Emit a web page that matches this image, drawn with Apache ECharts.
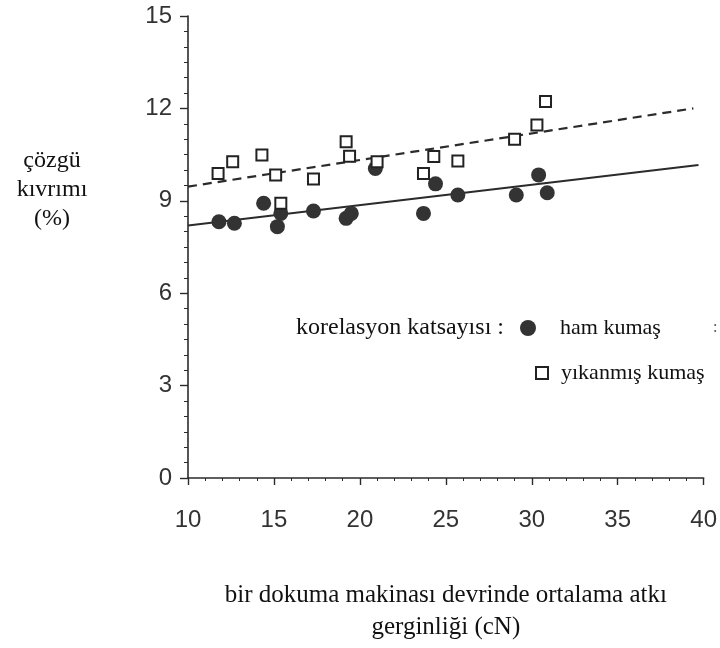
<!DOCTYPE html>
<html>
<head>
<meta charset="utf-8">
<script src="https://cdn.jsdelivr.net/npm/echarts@6/dist/echarts.min.js"></script>
<style>
  html, body { margin: 0; padding: 0; background: #ffffff; }
  #chart { width: 720px; height: 648px; }
</style>
</head>
<body>
<div id="chart"></div>
<script>
// Raw fabric (ham kumaş): weft tension (cN) vs warp crimp (%)
const hamX = [11.8, 12.7, 14.4, 15.2, 15.4, 17.3, 19.2, 19.5, 20.9, 23.7, 24.4, 25.7, 29.1, 30.4, 30.9];
const hamY = [8.32, 8.27, 8.92, 8.16, 8.59, 8.67, 8.43, 8.59, 10.05, 8.59, 9.55, 9.19, 9.19, 9.84, 9.26];

// Washed fabric (yıkanmış kumaş)
const yikX = [11.75, 12.6, 14.3, 15.1, 15.4, 17.3, 19.2, 19.4, 21.0, 23.7, 24.3, 25.7, 29.0, 30.3, 30.8];
const yikY = [9.89, 10.27, 10.49, 9.84, 8.92, 9.71, 10.92, 10.45, 10.27, 9.89, 10.44, 10.29, 11.0, 11.46, 12.22];

// Fitted trend lines (end points)
const hamFitX = [10, 39.7];
const hamFitY = [8.2, 10.16];
const yikFitX = [10, 39.4];
const yikFitY = [9.46, 12.0];

// Axis ticks
const xTicks = [10, 15, 20, 25, 30, 35, 40];
const yTicks = [0, 3, 6, 9, 12, 15];

const seriesNames = ['ham kumaş', 'yıkanmış kumaş'];

const zip = (xs, ys) => xs.map((x, i) => [x, ys[i]]);

const ink = '#2b2b2b';
const serif = '"Liberation Serif", "DejaVu Serif", serif';
const sans = '"Liberation Sans", Arial, sans-serif';

const chart = echarts.init(document.getElementById('chart'), null, { renderer: 'canvas' });

chart.setOption({
  backgroundColor: '#ffffff',
  animation: false,
  grid: { left: 188, right: 12, top: 16, bottom: 168, containLabel: false },
  xAxis: {
    type: 'value',
    min: xTicks[0],
    max: xTicks[xTicks.length - 1],
    interval: 5,
    name: 'bir dokuma makinası devrinde ortalama atkı\ngerginliği (cN)',
    nameLocation: 'middle',
    nameGap: 101,
    nameTextStyle: { fontFamily: serif, fontSize: 25, color: '#111', lineHeight: 32 },
    axisLine: { show: true, lineStyle: { color: ink, width: 1.6 } },
    axisTick: { show: true, length: 7, inside: false, lineStyle: { color: ink, width: 1.4 } },
    minorTick: { show: true, splitNumber: 5, length: 3, lineStyle: { color: ink, width: 1 } },
    axisLabel: { fontFamily: sans, fontSize: 24, color: '#333', margin: 30 },
    splitLine: { show: false }
  },
  yAxis: {
    type: 'value',
    min: yTicks[0],
    max: yTicks[yTicks.length - 1],
    interval: 3,
    axisLine: { show: true, onZero: false, lineStyle: { color: ink, width: 1.6 } },
    axisTick: { show: true, length: 8, lineStyle: { color: ink, width: 1.4 } },
    minorTick: { show: true, splitNumber: 6, length: 4, lineStyle: { color: ink, width: 1 } },
    axisLabel: { fontFamily: sans, fontSize: 24, color: '#333', margin: 16 },
    splitLine: { show: false }
  },
  legend: [
    {
      data: [{ name: seriesNames[0], icon: 'circle' }],
      left: 520, top: 317, padding: 0,
      itemWidth: 16, itemHeight: 16,
      textStyle: { fontFamily: serif, fontSize: 22, color: '#111', padding: [0, 0, 0, 19] },
      selectedMode: false
    },
    {
      data: [{ name: seriesNames[1], icon: 'rect' }],
      left: 535, top: 362, padding: 0,
      itemWidth: 12, itemHeight: 12,
      textStyle: { fontFamily: serif, fontSize: 22, color: '#111', padding: [0, 0, 0, 8] },
      selectedMode: false
    }
  ],
  graphic: [
    {
      type: 'text', left: 296, top: 316,
      style: { text: 'korelasyon katsayısı :', font: '24px ' + serif, fill: '#111' }
    },
    {
      type: 'text', left: 713, top: 320,
      style: { text: ':', font: '16px ' + serif, fill: '#555' }
    },
    {
      type: 'text', x: 52, y: 146,
      style: {
        text: 'çözgü\nkıvrımı\n(%)', font: '24px ' + serif, fill: '#111',
        align: 'center', verticalAlign: 'top', lineHeight: 29
      }
    }
  ],
  series: [
    {
      name: seriesNames[1] + ' trend',
      type: 'line',
      data: zip(yikFitX, yikFitY),
      symbol: 'none',
      lineStyle: { color: ink, width: 2.2, type: [9, 6] },
      z: 1,
      silent: true
    },
    {
      name: seriesNames[0] + ' trend',
      type: 'line',
      data: zip(hamFitX, hamFitY),
      symbol: 'none',
      lineStyle: { color: ink, width: 2 },
      z: 1,
      silent: true
    },
    {
      name: seriesNames[0],
      type: 'scatter',
      data: zip(hamX, hamY),
      symbol: 'circle',
      symbolSize: 15,
      itemStyle: { color: '#333333', opacity: 1 },
      z: 3
    },
    {
      name: seriesNames[1],
      type: 'scatter',
      data: zip(yikX, yikY),
      symbol: 'rect',
      symbolSize: 11,
      itemStyle: { color: '#ffffff', borderColor: '#222222', borderWidth: 2, opacity: 1 },
      z: 4
    }
  ]
});
</script>
</body>
</html>
